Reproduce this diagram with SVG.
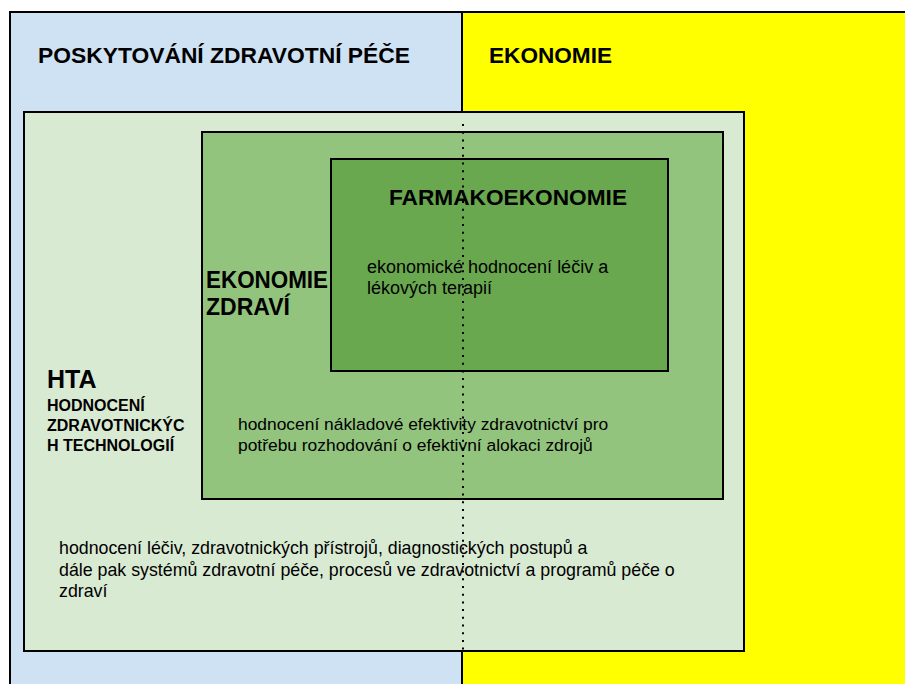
<svg xmlns="http://www.w3.org/2000/svg" width="905" height="684" viewBox="0 0 905 684">
  <style>
    .box { stroke: #000; stroke-width: 2; }
    .title { font-family: "Liberation Sans", Arial, sans-serif; font-weight: bold; fill: #000; }
    .body { font-family: "Liberation Sans", Arial, sans-serif; fill: #000; }
  </style>
  <rect width="905" height="684" fill="#ffffff"/>

  <!-- Background fields -->
  <g id="poskytovani">
    <rect class="box" x="10" y="12" width="452" height="680" fill="#cfe2f3"/>
    <text class="title" x="38" y="63" font-size="22" textLength="372" lengthAdjust="spacingAndGlyphs">POSKYTOVÁNÍ ZDRAVOTNÍ PÉČE</text>
  </g>
  <g id="ekonomie">
    <rect class="box" x="462" y="12" width="450" height="680" fill="#ffff00"/>
    <text class="title" x="489" y="63" font-size="22" textLength="123" lengthAdjust="spacingAndGlyphs">EKONOMIE</text>
  </g>

  <!-- Nested areas -->
  <g id="hta">
    <rect class="box" x="24" y="112" width="720" height="539" fill="#d9ead3"/>
    <text class="title" x="47" y="388" font-size="25">HTA</text>
    <text class="title" x="47" y="411" font-size="16">HODNOCENÍ</text>
    <text class="title" x="47" y="431" font-size="16">ZDRAVOTNICKÝC</text>
    <text class="title" x="47" y="451" font-size="16">H TECHNOLOGIÍ</text>
    <text class="body" x="59" y="554" font-size="17.8">hodnocení léčiv, zdravotnických přístrojů, diagnostických postupů a</text>
    <text class="body" x="59" y="575.5" font-size="17.8">dále pak systémů zdravotní péče, procesů ve zdravotnictví a programů péče o</text>
    <text class="body" x="59" y="597" font-size="17.8">zdraví</text>
  </g>
  <g id="ekonomie-zdravi">
    <rect class="box" x="202" y="132" width="521" height="367" fill="#93c47d"/>
    <text class="title" x="206" y="288" font-size="23" textLength="122" lengthAdjust="spacingAndGlyphs">EKONOMIE</text>
    <text class="title" x="206" y="315" font-size="23">ZDRAVÍ</text>
    <text class="body" x="238" y="430" font-size="17.4">hodnocení nákladové efektivity zdravotnictví pro</text>
    <text class="body" x="238" y="451" font-size="17.4">potřebu rozhodování o efektivní alokaci zdrojů</text>
  </g>
  <g id="farmakoekonomie">
    <rect class="box" x="331" y="159" width="337" height="212" fill="#6aa84f"/>
    <text class="title" x="389" y="205" font-size="22.5" textLength="238" lengthAdjust="spacingAndGlyphs">FARMAKOEKONOMIE</text>
    <text class="body" x="367" y="273" font-size="18">ekonomické hodnocení léčiv a</text>
    <text class="body" x="367" y="294" font-size="18">lékových terapií</text>
  </g>

  <!-- Dotted boundary line -->
  <g id="connectors">
    <line x1="463" y1="124" x2="463" y2="651" stroke="#000" stroke-width="2" stroke-dasharray="2 5.7"/>
  </g>
</svg>
